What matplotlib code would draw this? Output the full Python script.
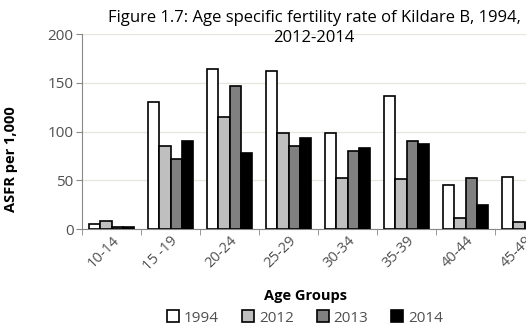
import matplotlib
matplotlib.use("Agg")
import matplotlib.pyplot as plt
import numpy as np

age_groups = ["10-14", "15 -19", "20-24", "25-29", "30-34", "35-39", "40-44", "45-49"]
asfr_1994 = [5, 130, 164, 162, 99, 136, 45, 54]
asfr_2012 = [8, 85, 115, 99, 53, 52, 12, 7]
asfr_2013 = [2, 72, 147, 85, 80, 90, 53, 6]
asfr_2014 = [2, 90, 78, 93, 83, 87, 25, 4]

series = [
    ("1994", asfr_1994, "#ffffff"),
    ("2012", asfr_2012, "#bfbfbf"),
    ("2013", asfr_2013, "#808080"),
    ("2014", asfr_2014, "#000000"),
]

plt.rcParams["font.family"] = ["Open Sans", "DejaVu Sans"]
text_color = "#505050"

fig = plt.figure(figsize=(5.26, 3.27), dpi=100)
# axes runs past the right edge of the figure, as in the cropped original
ax = fig.add_axes([82 / 526, 97.7 / 327, 472 / 526, 195.3 / 327])

x = np.arange(len(age_groups))
bar_w = 0.187
handles = []
for i, (label, values, color) in enumerate(series):
    offset = (i - 1.5) * bar_w
    bars = ax.bar(x + offset, values, width=bar_w, color=color,
                  edgecolor="black", linewidth=1.2, label=label, zorder=3)
    handles.append(bars)

ax.set_xlim(-0.5, len(age_groups) - 0.5)
ax.set_ylim(0, 200)
ax.set_yticks([0, 50, 100, 150, 200])
ax.grid(axis="y", color="#e6e6dc", linewidth=0.9, zorder=0)

ax.set_xticks(x)
ax.set_xticklabels(age_groups, rotation=45, ha="right", rotation_mode="anchor")
ax.set_xticks(np.arange(-0.5, len(age_groups)), minor=True)
ax.tick_params(axis="x", which="major", length=0, pad=3, labelsize=10.5, labelcolor=text_color)
ax.tick_params(axis="x", which="minor", length=4, color="#888888")
ax.tick_params(axis="y", length=4, color="#888888", labelsize=11, labelcolor=text_color, pad=2)

for side in ["top", "right"]:
    ax.spines[side].set_visible(False)
ax.spines["left"].set_color("#888888")
ax.spines["bottom"].set_color("#888888")

ax.set_ylabel("ASFR per 1,000", fontsize=10.5, fontweight="bold", color="black")
ax.yaxis.set_label_coords(-0.136, 0.36)
fig.text(306 / 526, 1 - 296 / 327, "Age Groups", ha="center", va="center",
         fontsize=10.5, fontweight="bold", color="black")
fig.text(314 / 526, 1 - 10 / 327,
         "Figure 1.7: Age specific fertility rate of Kildare B, 1994,\n2012-2014",
         ha="center", va="top", fontsize=12, color="black", linespacing=1.3)

fig.legend(handles=handles, labels=[s[0] for s in series], loc="center",
           bbox_to_anchor=(305 / 526, 1 - 318 / 327), ncol=4, frameon=False,
           fontsize=11, handlelength=0.8, handleheight=0.8, handletextpad=0.3,
           columnspacing=1.5, labelcolor=text_color)

fig.savefig("out.png", dpi=100)
